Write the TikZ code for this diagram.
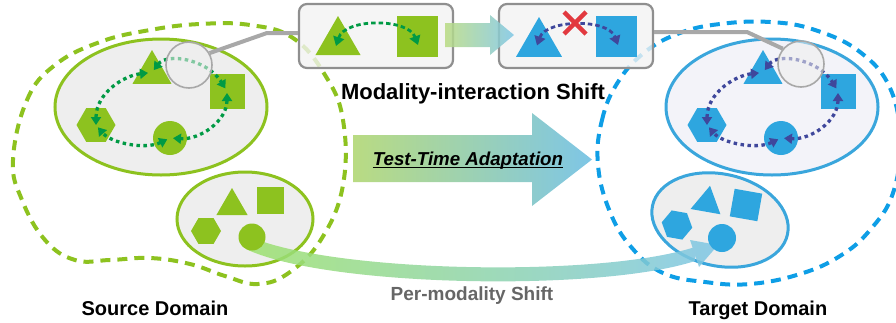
\documentclass[tikz,border=0pt]{standalone}
\usepackage{fontspec}
\setmainfont{Liberation Sans}
\usetikzlibrary{shapes.geometric, arrows.meta, calc}

\definecolor{zel}{HTML}{8DC21F}
\definecolor{sin}{HTML}{2EA6DF}
\definecolor{zelT}{HTML}{009A44}
\definecolor{sinT}{HTML}{3F479C}
\definecolor{sinD}{HTML}{0E9EE6}
\definecolor{sinO}{HTML}{3AA6DC}
\definecolor{ser}{HTML}{A8A8A8}
\definecolor{fon}{HTML}{EEEEEE}
\definecolor{fonT}{HTML}{F3F3F9}
\definecolor{kras}{HTML}{E2393F}
\definecolor{gradL}{HTML}{B9DB82}
\definecolor{gradR}{HTML}{7EC6E6}

\begin{document}
\begin{tikzpicture}[
        x=1pt, y=-1pt, % координаты в пикселях, ось y вниз
        oblako/.style={line width=4pt, dash pattern=on 10pt off 7pt}, % пунктир доменов
        oval/.style={ellipse, draw, line width=3pt, fill=fon, inner sep=0pt},
        tri/.style={regular polygon, regular polygon sides=3, inner sep=0pt, minimum size=#1},
        kvad/.style={rectangle, inner sep=0pt, minimum size=#1},
        shest/.style={regular polygon, regular polygon sides=6, inner sep=0pt, minimum size=#1},
        krug/.style={circle, inner sep=0pt, minimum size=#1},
        svyaz/.style={line width=3.3pt, dash pattern=on 3.5pt off 3.5pt,
                {Triangle[width=10pt,length=8pt]}-{Triangle[width=10pt,length=8pt]}}, % связи модальностей
        strelka/.style={line width=2.8pt, dash pattern=on 4.5pt off 3pt,
                {Triangle[width=11pt,length=9pt]}-{Triangle[width=11pt,length=9pt]}},
        lupa/.style={circle, draw=ser, line width=1.6pt, fill=fon, fill opacity=0.55, minimum size=46pt, inner sep=0pt},
        provod/.style={draw=ser, line width=4pt},
        okno/.style={rectangle, rounded corners=8pt, draw=ser!85!black, line width=2.2pt, fill=fon!70,
                fill opacity=0.8, minimum width=154pt, minimum height=64pt},
        nadpis/.style={anchor=base, inner sep=0pt, font=\bfseries\fontsize{20}{22}\selectfont},
    ]
    \clip (0,0) rectangle (896,322);

    % домены
    \draw[oblako, zel] plot[smooth cycle, tension=0.7] coordinates {(13,160) (27,100) (55,65) (100,42) (150,30)
            (200,24) (250,25) (293,38) (325,75) (343,120) (343,185) (322,238) (290,272) (258,284) (225,276)
            (190,264) (150,258) (110,260) (75,260) (45,240) (22,200)};
    \draw[oblako, sinD] plot[smooth cycle, tension=0.7] coordinates {(598,165) (602,120) (618,82) (645,52)
            (680,33) (720,24) (770,22) (815,30) (860,52) (890,88) (900,140) (893,193) (870,230) (840,256)
            (800,274) (750,284) (705,282) (663,273) (632,248) (610,212)};

    \node[oval, draw=zel, minimum width=212pt, minimum height=136pt] (ovalSA) at (161,107) {};
    \node[oval, draw=zel, minimum width=136pt, minimum height=94pt] (ovalSB) at (245,219) {};
    \node[oval, draw=sinO, fill=fonT, minimum width=212pt, minimum height=136pt] (ovalTA) at (772,107) {};
    \node[oval, draw=sinO, minimum width=138pt, minimum height=92pt, rotate=-12] (ovalTB) at (720,220) {};

    % исходный домен
    \node[tri=45, fill=zel] (triSA) at (152,72.5) {};
    \node[kvad=35, fill=zel] (kvSA) at (227,91) {};
    \node[shest=39, fill=zel] (shSA) at (96,125) {};
    \node[krug=34, fill=zel] (krSA) at (170,138) {};
    \draw[svyaz, zelT, shorten >=4pt] (shSA.center) .. controls +(0,-32) and +(-28,3) .. (triSA.center);
    \draw[svyaz, zelT, shorten <=3pt, shorten >=3pt] (triSA.center) .. controls +(15,-20) and +(-20,-32) .. (kvSA.center);
    \draw[svyaz, zelT, shorten <=2pt, shorten >=3pt] (kvSA.center) .. controls +(0,30) and +(30,2) .. (krSA.center);
    \draw[svyaz, zelT, shorten <=3pt, shorten >=3pt] (krSA.center) .. controls +(-25,12) and +(15,18) .. (shSA.center);
    \node[lupa] (lupaSA) at (189,65) {};

    % целевой домен
    \node[tri=45, fill=sin] (triTA) at (763,72.5) {};
    \node[kvad=35, fill=sin] (kvTA) at (838,91) {};
    \node[shest=39, fill=sin] (shTA) at (707,125) {};
    \node[krug=34, fill=sin] (krTA) at (781,138) {};
    \draw[svyaz, sinT, shorten >=4pt] (shTA.center) .. controls +(0,-32) and +(-28,3) .. (triTA.center);
    \draw[svyaz, sinT, shorten <=3pt, shorten >=3pt] (triTA.center) .. controls +(15,-20) and +(-20,-32) .. (kvTA.center);
    \draw[svyaz, sinT, shorten <=2pt, shorten >=3pt] (kvTA.center) .. controls +(0,30) and +(30,2) .. (krTA.center);
    \draw[svyaz, sinT, shorten <=3pt, shorten >=3pt] (krTA.center) .. controls +(-25,12) and +(15,18) .. (shTA.center);
    \node[lupa] (lupaTA) at (801,64) {};

    % окна сверху
    \node[okno] (okno1) at (376,36) {};
    \node[okno] (okno2) at (576,36) {};
    \coordinate (izgS) at (267,33);
    \coordinate (izgT) at (747,32);
    \draw[provod] (lupaSA.30) -- (izgS) -- (izgS -| okno1.west);
    \draw[provod] (izgT -| okno2.east) -- (izgT) -- (lupaTA.140);

    \node[tri=52, fill=zel] (triO1) at (338,42) {};
    \node[kvad=41, fill=zel] (kvO1) at (417,36) {};
    \draw[strelka, zelT] ($(triO1)+(-2,4)$) .. controls +(9,-28) and +(-10,-27) .. ($(kvO1)+(1,9)$);
    \node[tri=53, fill=sin] (triO2) at (539,43.5) {};
    \node[kvad=41, fill=sin] (kvO2) at (616,36) {};
    \draw[strelka, sinT] ($(triO2)+(-2,2)$) .. controls +(9,-26) and +(-10,-27) .. ($(kvO2)+(2,9)$);
    \coordinate (kross) at (575,23);
    \draw[kras, line width=4.5pt] ($(kross)+(-11,-11)$) -- ($(kross)+(11,11)$)
        ($(kross)+(-11,11)$) -- ($(kross)+(11,-11)$);

    % градиентные стрелки
    \path[left color=gradL, right color=gradR, opacity=0.85] (445,23) -- (490,23) -- (490,15) -- (514,35)
        -- (490,55) -- (490,47) -- (445,47) -- cycle;
    \path[left color=gradL, right color=gradR] (353,135) -- (532,135) -- (532,113) -- (592,159.5)
        -- (532,206) -- (532,182) -- (353,182) -- cycle;
    \node[anchor=base, inner sep=0pt, font=\bfseries\itshape\fontsize{18.7}{20}\selectfont] (tta) at (468,165) {Test-Time Adaptation};
    \draw[line width=1.3pt] ([yshift=-2.5pt]tta.base west) -- ([yshift=-2.5pt]tta.base east);

    \coordinate (bandA) at (248,243);
    \coordinate (bandB) at (695,254);
    \path[left color=gradL!85!green, right color=gradR, opacity=0.85]
        ($(bandA)+(0,-7)$) .. controls +(82,37) and +(-95,31) .. ($(bandB)+(0,-7)$)
        -- ($(bandB)+(0,7)$) .. controls +(-95,31) and +(82,37) .. ($(bandA)+(0,7)$) -- cycle
        ($(bandB)+(-5,-14)$) -- ($(bandB)+(23,-9)$) -- ($(bandB)+(4,13)$) -- cycle;

    % нижние овалы
    \node[tri=36, fill=zel] (triSB) at (232,206) {};
    \node[kvad=27, fill=zel] (kvSB) at (270,200) {};
    \node[shest=30, fill=zel] (shSB) at (206,231) {};
    \node[krug=27, fill=zel] (krSB) at (252,237) {};
    \node[tri=35, fill=sin, rotate=-10] (triTB) at (707,203) {};
    \node[kvad=28, fill=sin, rotate=-10] (kvTB) at (746,205) {};
    \node[shest=31, fill=sin, rotate=-10] (shTB) at (677,225) {};
    \node[krug=28, fill=sin] (krTB) at (722,238) {};

    % подписи
    \node[nadpis, font=\bfseries\fontsize{22}{24}\selectfont] (modal) at (473,99) {Modality-interaction Shift};
    \node[nadpis] (istok) at (155,315) {Source Domain};
    \node[nadpis] (tsel) at (758,315) {Target Domain};
    \node[nadpis, font=\bfseries\fontsize{19}{21}\selectfont, text=black!60] (permod) at (472,300) {Per-modality Shift};
\end{tikzpicture}
\end{document}
